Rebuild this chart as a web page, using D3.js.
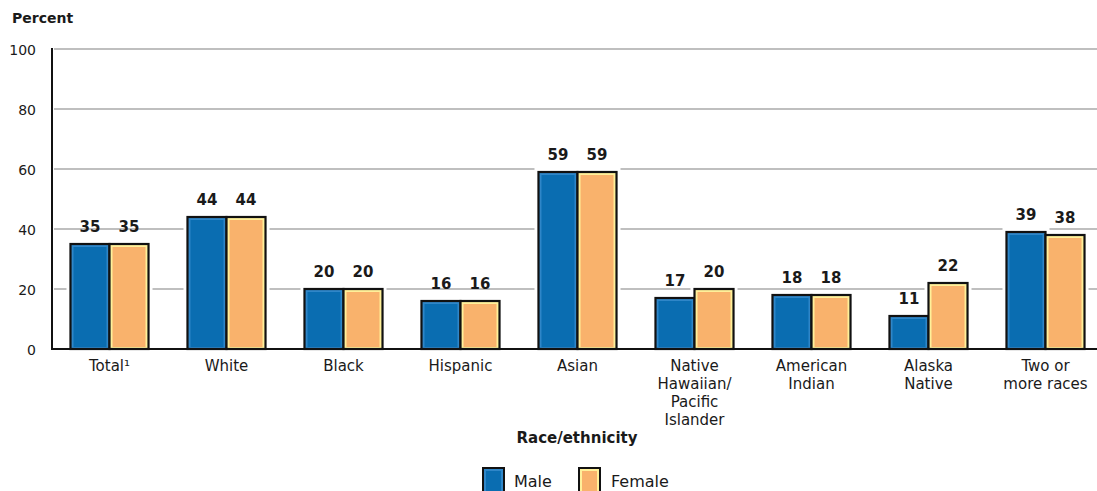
<!DOCTYPE html>
<html>
<head>
<meta charset="utf-8">
<script src="https://cdn.jsdelivr.net/npm/d3@7"></script>
<style>
  html, body { margin: 0; padding: 0; background: #fff; }
  svg { display: block; }
  text { font-family: "DejaVu Sans", sans-serif; fill: #1a1a1a; }
</style>
</head>
<body>
<svg id="chart" width="1097" height="491"></svg>
<script>
// Race/ethnicity groups (multi-line labels split on "|")
const categories = [
  "Total¹", "White", "Black", "Hispanic", "Asian",
  "Native|Hawaiian/|Pacific|Islander", "American|Indian",
  "Alaska|Native", "Two or|more races"
];
const maleValues   = [35, 44, 20, 16, 59, 17, 18, 11, 39];
const femaleValues = [35, 44, 20, 16, 59, 20, 18, 22, 38];
const seriesNames  = ["Male", "Female"];
const yTicks       = [0, 20, 40, 60, 80, 100];

const svg = d3.select("#chart");
const W = 1097;

const x = d3.scaleBand()
  .domain(categories)
  .range([51, 1104])
  .paddingInner(0.333)
  .paddingOuter(0.1665);

const sub = d3.scaleBand()
  .domain(seriesNames)
  .range([0, x.bandwidth()])
  .padding(0);

const y = d3.scaleLinear().domain([0, 100]).range([349, 49]);

const colors = { Male: "#0a6db1", Female: "#f9b26c" };

// Horizontal gridlines
svg.append("g")
  .selectAll("line")
  .data(yTicks.filter(d => d > 0))
  .join("line")
  .attr("x1", 54).attr("x2", W)
  .attr("y1", d => y(d)).attr("y2", d => y(d))
  .attr("stroke", "#aaaaaa")
  .attr("stroke-width", 1.4);

// Y tick labels
const yAxis = d3.axisLeft(y).tickValues(yTicks).tickSize(0).tickPadding(0);
const gy = svg.append("g").attr("transform", "translate(36,0)").call(yAxis);
gy.select(".domain").remove();
gy.selectAll("text")
  .attr("font-size", 14)
  .attr("font-family", "DejaVu Sans, sans-serif")
  .attr("fill", "#1a1a1a")
  .attr("dy", "0.36em");

// Groups of bars
const groups = svg.append("g")
  .selectAll("g")
  .data(categories.map((c, i) => ({ c, vals: [maleValues[i], femaleValues[i]] })))
  .join("g")
  .attr("transform", d => `translate(${x(d.c)},0)`);

// White halo that breaks the gridlines around each bar
groups.selectAll("rect.halo")
  .data(d => d.vals.map((v, j) => ({ s: seriesNames[j], v })))
  .join("rect")
  .attr("class", "halo")
  .attr("x", d => sub(d.s) - 4)
  .attr("width", sub.bandwidth() + 8)
  .attr("y", d => y(d.v) - 4)
  .attr("height", d => y(0) - y(d.v) + 4)
  .attr("fill", "#fff");

// Bars
const bars = groups.selectAll("g.bar")
  .data(d => d.vals.map((v, j) => ({ s: seriesNames[j], v })))
  .join("g")
  .attr("class", "bar");

bars.append("rect")
  .attr("x", d => sub(d.s))
  .attr("width", sub.bandwidth())
  .attr("y", d => y(d.v))
  .attr("height", d => y(0) - y(d.v))
  .attr("fill", d => d.s === "Female" ? "#fff09a" : "#2f86c8")
  .attr("stroke", "#111")
  .attr("stroke-width", 2.2);

bars.append("rect")
  .attr("x", d => sub(d.s) + 3)
  .attr("width", sub.bandwidth() - 6)
  .attr("y", d => y(d.v) + 3)
  .attr("height", d => Math.max(0, y(0) - y(d.v) - 5))
  .attr("fill", d => colors[d.s]);

// Value labels
bars.append("text")
  .attr("x", d => sub(d.s) + sub.bandwidth() / 2)
  .attr("y", d => y(d.v) - 12)
  .attr("text-anchor", "middle")
  .attr("font-size", 15)
  .attr("font-weight", "bold")
  .text(d => d.v);

// Axis lines
svg.append("line")
  .attr("x1", 52).attr("x2", 52).attr("y1", 48).attr("y2", 350)
  .attr("stroke", "#111").attr("stroke-width", 2);
svg.append("line")
  .attr("x1", 51).attr("x2", W).attr("y1", y(0)).attr("y2", y(0))
  .attr("stroke", "#111").attr("stroke-width", 2);

// Category labels
const xl = svg.append("g");
categories.forEach(c => {
  const t = xl.append("text")
    .attr("x", x(c) + x.bandwidth() / 2)
    .attr("y", 371)
    .attr("text-anchor", "middle")
    .attr("font-size", 15);
  c.split("|").forEach((line, i) => {
    t.append("tspan")
      .attr("x", x(c) + x.bandwidth() / 2)
      .attr("dy", i === 0 ? 0 : 18)
      .text(line);
  });
});

// Titles
svg.append("text")
  .attr("x", 12).attr("y", 23)
  .attr("font-size", 14).attr("font-weight", "bold")
  .text("Percent");

svg.append("text")
  .attr("x", 577).attr("y", 443)
  .attr("text-anchor", "middle")
  .attr("font-size", 15).attr("font-weight", "bold")
  .text("Race/ethnicity");

// Legend
const legend = svg.append("g");
const legendItems = [
  { s: "Male", x: 483, tx: 514 },
  { s: "Female", x: 579, tx: 611 }
];
legendItems.forEach(d => {
  legend.append("rect")
    .attr("x", d.x).attr("y", 468)
    .attr("width", 21).attr("height", 24)
    .attr("fill", d.s === "Female" ? "#fff09a" : "#2f86c8")
    .attr("stroke", "#111").attr("stroke-width", 2);
  legend.append("rect")
    .attr("x", d.x + 3).attr("y", 471)
    .attr("width", 15).attr("height", 20)
    .attr("fill", colors[d.s]);
  legend.append("text")
    .attr("x", d.tx).attr("y", 487)
    .attr("font-size", 16)
    .text(d.s);
});
</script>
</body>
</html>
